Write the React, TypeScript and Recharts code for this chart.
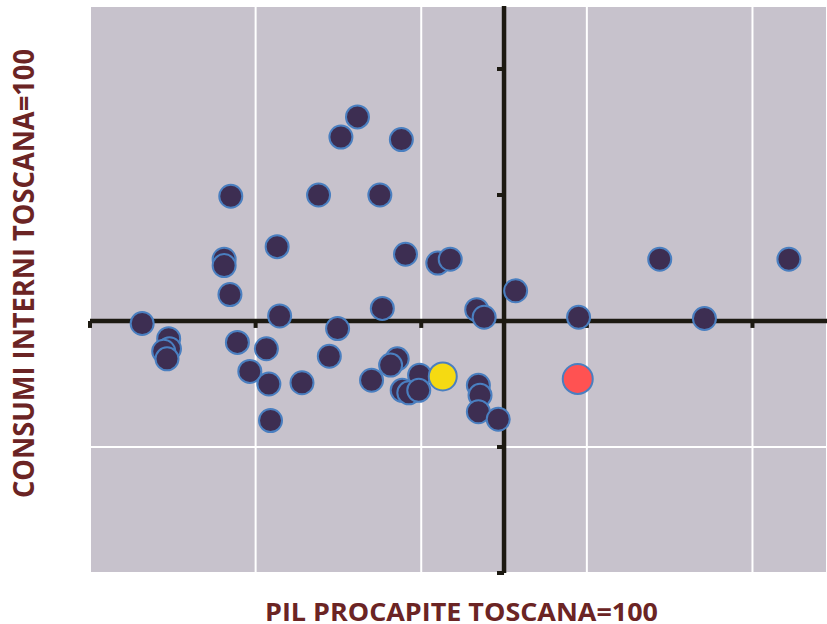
import { ScatterChart, Scatter, XAxis, YAxis, CartesianGrid, ReferenceLine } from 'recharts';

// PIL procapite (Toscana=100) for each area
const pilValues = [
  56.3, 59.5, 59.6, 58.9, 59.3, 67.0, 66.2, 66.2, 66.9, 72.6,
  72.9, 67.8, 71.3, 69.3, 71.6, 75.6, 71.8, 82.3, 80.3, 87.6,
  77.6, 85.0, 88.1, 92.0, 93.5, 85.3, 96.7, 97.6, 79.9, 78.9,
  84.0, 87.1, 86.3, 89.8, 87.7, 88.5, 89.7, 96.9, 97.1, 96.9,
  99.3, 101.4, 109.0, 118.8, 134.4, 124.2,
];

// consumi interni (Toscana=100), same order
const consumiValues = [
  99.8, 98.6, 97.8, 97.6, 97.0, 109.9, 104.9, 104.4, 102.1, 105.9,
  100.4, 98.3, 97.8, 96.0, 95.0, 95.1, 92.1, 116.2, 114.6, 114.4,
  110.0, 110.0, 105.3, 104.6, 104.9, 101.0, 100.9, 100.3, 99.4, 97.2,
  95.3, 97.0, 96.5, 95.7, 94.5, 94.3, 94.5, 94.9, 94.1, 92.8,
  92.2, 102.4, 100.3, 104.9, 104.9, 100.2,
];

const yellowPoint = [{ x: 92.6, y: 95.6 }];
const redPoint = [{ x: 108.9, y: 95.4 }];

const xTicks = [50, 70, 90, 110, 130];
const yTicks = [80, 90, 110, 120];

const xTitle = 'PIL PROCAPITE TOSCANA=100';
const yTitle = 'CONSUMI INTERNI TOSCANA=100';

const areas = pilValues.map((x, i) => ({ x, y: consumiValues[i] }));

const axisColor = '#1c1911';
const labelColor = '#6b2424';

function dot(r: number, fill: string) {
  return (props: any) => (
    <circle cx={props.cx} cy={props.cy} r={r} fill={fill} stroke="#4a7fc0" strokeWidth={2} />
  );
}

export default function App() {
  return (
    <div style={{ position: 'absolute', left: 0, top: 0, width: 827, height: 624, background: '#fff' }}>
      <ScatterChart width={827} height={624} margin={{ top: 6, right: 0, bottom: 51, left: 90 }}>
        <XAxis type="number" dataKey="x" domain={[50, 139]} ticks={xTicks} hide allowDataOverflow />
        <YAxis type="number" dataKey="y" domain={[80, 125]} ticks={[...yTicks, 100]} hide allowDataOverflow />
        <CartesianGrid fill="#c7c2cc" fillOpacity={1} stroke="#ffffff" strokeWidth={2} />
        <ReferenceLine x={100} stroke={axisColor} strokeWidth={4.5} />
        <ReferenceLine y={100} stroke={axisColor} strokeWidth={4.5} />
        {xTicks.map((t) => (
          <ReferenceLine key={'xt' + t} segment={[{ x: t, y: 100 }, { x: t, y: 99.45 }]} stroke={axisColor} strokeWidth={4} />
        ))}
        {yTicks.map((t) => (
          <ReferenceLine key={'yt' + t} segment={[{ x: 99.15, y: t }, { x: 100, y: t }]} stroke={axisColor} strokeWidth={4} />
        ))}
        <Scatter data={areas} shape={dot(11.5, '#3d2e52')} isAnimationActive={false} />
        <Scatter data={yellowPoint} shape={dot(14, '#f5da12')} isAnimationActive={false} />
        <Scatter data={redPoint} shape={dot(15, '#ff5252')} isAnimationActive={false} />
      </ScatterChart>
      <svg
        width={827}
        height={624}
        style={{ position: 'absolute', left: 0, top: 0, pointerEvents: 'none' }}
        fontFamily='"Open Sans", sans-serif'
        fontWeight={700}
        fill={labelColor}
      >
        <text x={265} y={621} fontSize={25} textLength={393} lengthAdjust="spacingAndGlyphs">
          {xTitle}
        </text>
        <text transform="translate(33.5,498) rotate(-90)" fontSize={29} textLength={449} lengthAdjust="spacingAndGlyphs">
          {yTitle}
        </text>
      </svg>
    </div>
  );
}
